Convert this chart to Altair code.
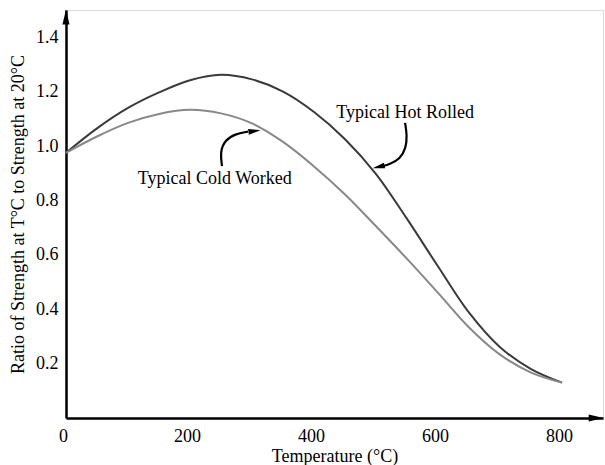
import altair as alt
import pandas as pd

# Strength ratio vs temperature
temps = [0, 50, 100, 150, 200, 250, 300, 350, 400, 450, 500, 550, 600, 650, 700, 750, 800]
hot_rolled = [0.975, 1.065, 1.14, 1.197, 1.242, 1.262, 1.245, 1.2, 1.125, 1.025, 0.897, 0.732, 0.557, 0.387, 0.26, 0.18, 0.13]
cold_worked = [0.975, 1.035, 1.085, 1.118, 1.133, 1.12, 1.083, 1.015, 0.925, 0.822, 0.705, 0.585, 0.46, 0.333, 0.233, 0.167, 0.13]

x_ticks = [0, 200, 400, 600, 800]
y_ticks = [0.2, 0.4, 0.6, 0.8, 1.0, 1.2, 1.4]

# Callout labels and their curved leader arrows (data units)
labels = ["Typical Hot Rolled", "Typical Cold Worked"]
label_x = [547, 240]
label_y = [1.123, 0.877]

hot_arrow_x = [546.8, 550.0, 548.4, 538.7, 522.6, 511.3]
hot_arrow_y = [1.085, 1.040, 0.993, 0.952, 0.934, 0.926]
cold_arrow_x = [251.6, 248.4, 256.5, 272.6, 293.5]
cold_arrow_y = [0.926, 0.978, 1.022, 1.044, 1.053]
head_x = [504, 304, 855, 0]
head_y = [0.9235, 1.055, 0.0, 1.474]
head_angle = [167, 352, 0, 270]
head_size = [150, 150, 225, 225]

FONT = "Liberation Serif"
X_DOM = [0, 866]
Y_DOM = [0, 1.5]

curves = pd.DataFrame({
    "T": temps * 2,
    "ratio": hot_rolled + cold_worked,
    "series": ["Typical Hot Rolled"] * len(temps) + ["Typical Cold Worked"] * len(temps),
})

xs = alt.Scale(domain=X_DOM, nice=False, zero=False)
ys = alt.Scale(domain=Y_DOM, nice=False, zero=False)

lines = alt.Chart(curves).mark_line(interpolate="catmull-rom", strokeWidth=2).encode(
    x=alt.X("T:Q", scale=xs, title="Temperature (°C)",
            axis=alt.Axis(values=x_ticks, grid=False, ticks=False, labelPadding=9,
                          domainColor="black", domainWidth=2.5, labelOffset=-3,
                          labelFont=FONT, labelFontSize=18, labelColor="black",
                          titleFont=FONT, titleFontSize=18, titleFontWeight="normal",
                          titleColor="black", titlePadding=2, labelFlush=False)),
    y=alt.Y("ratio:Q", scale=ys, title="Ratio of Strength at T°C to Strength at 20°C",
            axis=alt.Axis(values=y_ticks, format=".1f", grid=False, ticks=False, labelPadding=8,
                          domainColor="black", domainWidth=2.5,
                          labelFont=FONT, labelFontSize=18, labelColor="black",
                          titleFont=FONT, titleFontSize=18, titleFontWeight="normal",
                          titleColor="black", titlePadding=8)),
    color=alt.Color("series:N", legend=None,
                    scale=alt.Scale(domain=["Typical Hot Rolled", "Typical Cold Worked"],
                                    range=["#3a3a3a", "#888888"])),
)

arrows = pd.DataFrame({
    "x": hot_arrow_x + cold_arrow_x,
    "y": hot_arrow_y + cold_arrow_y,
    "k": ["hot"] * len(hot_arrow_x) + ["cold"] * len(cold_arrow_x),
    "i": list(range(len(hot_arrow_x))) + list(range(len(cold_arrow_x))),
})
leaders = alt.Chart(arrows).mark_line(interpolate="basis", color="black", strokeWidth=2.2).encode(
    x=alt.X("x:Q", scale=xs), y=alt.Y("y:Q", scale=ys), detail="k:N", order="i:Q"
)

heads = pd.DataFrame({"x": head_x, "y": head_y, "a": head_angle, "s": head_size})
arrowheads = alt.Chart(heads).mark_point(
    shape="M1,0 L-1,-0.47 L-1,0.47 Z", filled=True, color="black", opacity=1, strokeWidth=0
).encode(
    x=alt.X("x:Q", scale=xs), y=alt.Y("y:Q", scale=ys),
    angle=alt.Angle("a:Q", scale=None), size=alt.Size("s:Q", scale=None),
)

text_df = pd.DataFrame({"label": labels, "x": label_x, "y": label_y})
texts = alt.Chart(text_df).mark_text(font=FONT, fontSize=18, color="black", baseline="middle").encode(
    x=alt.X("x:Q", scale=xs), y=alt.Y("y:Q", scale=ys), text="label:N"
)

chart = alt.layer(lines, leaders, arrowheads, texts).properties(
    width=537, height=408,
    autosize=alt.AutoSizeParams(type="none"),
    padding={"left": 66, "top": 10, "right": 2, "bottom": 47},
).configure_view(stroke=None).configure(background="white")

chart.save("out.html", embed_options={"renderer": "svg", "actions": False})
